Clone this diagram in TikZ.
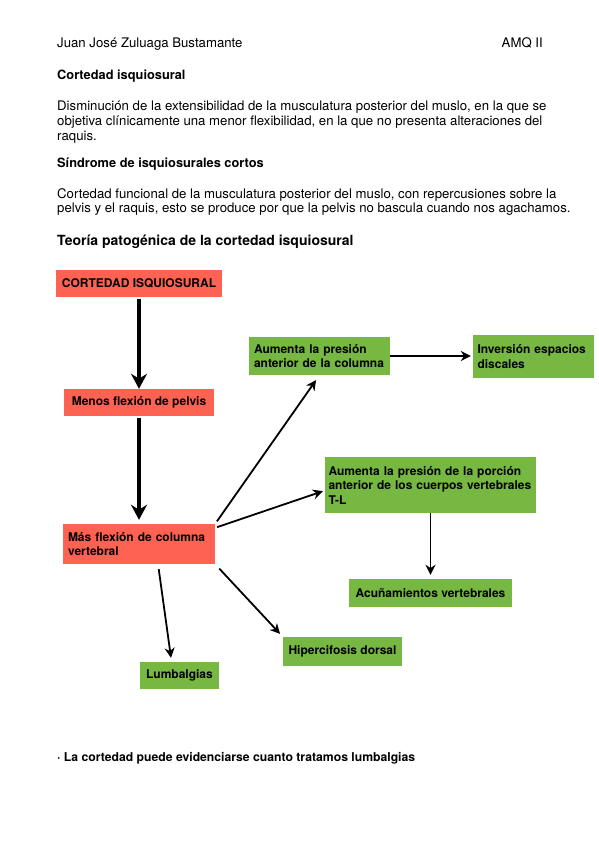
\documentclass[tikz,border=0pt]{standalone}
\usepackage{fontspec}
\setmainfont{TeX Gyre Heros}
\usepackage{xcolor}
\usepackage{tikz}
\usetikzlibrary{arrows.meta, positioning, calc}
\definecolor{boxred}{RGB}{253, 98, 82}
\definecolor{boxgreen}{RGB}{118, 184, 66}
\hyphenpenalty=10000
\tikzstyle{redbox} = [
    rectangle,
    fill=boxred,
    inner xsep=5pt,
    inner ysep=0pt,
    align=left,
    font=\fontsize{12}{14.5}\selectfont\bfseries
]
\tikzstyle{greenbox} = [
    rectangle,
    fill=boxgreen,
    inner xsep=5pt,
    inner ysep=0pt,
    align=left,
    font=\fontsize{12}{14.5}\selectfont\bfseries
]
\tikzstyle{arrow} = [
    line width=1.8pt,
    -{Stealth[length=10pt, width=10pt]}
]
\tikzstyle{bigarrow} = [
    line width=3.5pt,
    -{Stealth[length=15pt, width=16pt]}
]
\tikzstyle{bodytext} = [
    inner sep=0pt,
    align=left,
    font=\fontsize{13.2}{14.6}\selectfont
]
\tikzstyle{heading} = [
    inner sep=0pt,
    anchor=base west,
    font=\fontsize{12.8}{15}\selectfont\bfseries
]

\begin{document}
\begin{tikzpicture}[x=1pt, y=-1pt]
    \useasboundingbox (0,0) rectangle (599,848);

    % Page text
    \node[bodytext, anchor=base west] (author) at (57,47.5) {Juan José Zuluaga Bustamante};
    \node[bodytext, anchor=base east] (course) at (543,47.5) {AMQ II};
    \node[heading] (def1) at (57,79.5) {Cortedad isquiosural};
    \node[bodytext, anchor=north west] (text1) at (57,101) {Disminución de la extensibilidad de la musculatura posterior del muslo, en la que se\\
        objetiva clínicamente una menor flexibilidad, en la que no presenta alteraciones del\\
        raquis.};
    \node[heading] (def2) at (57,167.5) {Síndrome de isquiosurales cortos};
    \node[bodytext, anchor=north west] (text2) at (57,188) {Cortedad funcional de la musculatura posterior del muslo, con repercusiones sobre la\\
        pelvis y el raquis, esto se produce por que la pelvis no bascula cuando nos agachamos.};
    \node[heading, font=\fontsize{14}{16}\selectfont\bfseries] (title) at (57,245) {Teoría patogénica de la cortedad isquiosural};

    % Boxes
    \node[redbox, minimum width=166pt, minimum height=27pt] (cortedad) at (139,283.5) {CORTEDAD ISQUIOSURAL};
    \node[redbox, minimum width=150pt, minimum height=27pt] (menos) at (139,402.5) {Menos flexión de pelvis};
    \node[redbox, text width=142pt, minimum height=40pt] (mas) at (139,544) {Más flexión de columna\\vertebral};
    \node[greenbox, text width=131pt, minimum height=38pt] (aumenta) at (319.5,356) {Aumenta la presión\\anterior de la columna};
    \node[greenbox, text width=112pt, inner xsep=4.5pt, minimum height=43pt] (inversion) at (533.5,356.5) {Inversión espacios\\discales\\[-2pt]};
    \node[greenbox, text width=204pt, inner xsep=3.5pt, minimum height=56pt] (tl) at (430.5,485) {Aumenta la presión de la porción\\anterior de los cuerpos vertebrales\\T-L};
    \node[greenbox, minimum width=163pt, minimum height=28pt] (acu) at (430.5,593) {Acuñamientos vertebrales};
    \node[greenbox, minimum width=119pt, minimum height=29pt] (hiper) at (342.5,651.5) {Hipercifosis dorsal};
    \node[greenbox, minimum width=79pt, minimum height=27pt] (lumb) at (179.5,675.5) {Lumbalgias};

    % Arrows
    \draw[bigarrow, shorten <=2pt] (cortedad) -- (menos);
    \draw[bigarrow, shorten <=2pt, shorten >=4pt] (menos) -- (mas);
    \draw[arrow, shorten <=3pt, shorten >=6pt] (mas.north east) -- (aumenta.south);
    \draw[arrow, shorten <=2pt, shorten >=2pt] (mas.12) -- (tl.183);
    \draw[arrow, shorten >=2pt] (aumenta.east) -- (aumenta.east -| inversion.west);
    \draw[arrow, shorten >=4pt] (tl) -- (acu);
    \draw[arrow, shorten <=5pt, shorten >=4pt] ($(mas.south)!0.25!(mas.south east)$) -- ($(lumb.north west)!0.4!(lumb.north east)$);
    \draw[arrow, shorten <=6pt, shorten >=4pt] (mas.south east) -- (hiper.north west);

    % Note
    \node[heading, font=\fontsize{12.2}{14}\selectfont\bfseries] (note) at (57,761.5) {· La cortedad puede evidenciarse cuanto tratamos lumbalgias};
\end{tikzpicture}
\end{document}
